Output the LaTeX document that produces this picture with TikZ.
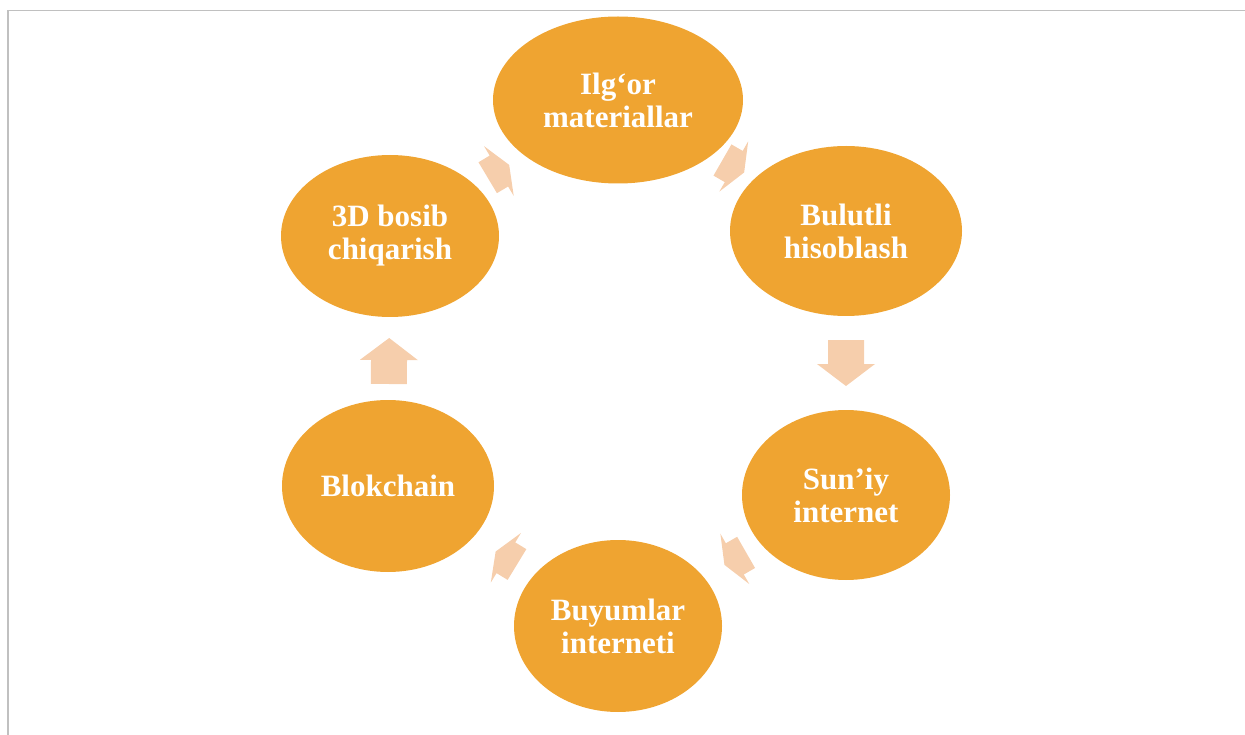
\documentclass[tikz,border=0pt]{standalone}
\usepackage{fontspec}
\setmainfont{Liberation Serif}
\usetikzlibrary{shapes.geometric,calc}
\definecolor{ellfill}{HTML}{EFA431}
\definecolor{arrfill}{HTML}{F6CEAC}
\definecolor{framegray}{HTML}{C0C0C0}
\begin{document}
\begin{tikzpicture}[x=1pt,y=-1pt,
  cyc/.style={ellipse, fill=ellfill, draw=none, text=white, inner sep=0pt, align=center,
    font=\fontsize{31}{33}\selectfont\bfseries}]
\useasboundingbox (0,0) rectangle (1245,735);
\draw[framegray, line width=1.5pt] (8,735) -- (8,10.5) -- (1245,10.5);
\node[cyc, minimum width=250pt, minimum height=167pt] (n1) at (618,100) {Ilg‘or\\materiallar};
\node[cyc, minimum width=232pt, minimum height=170pt] (n2) at (846,231) {Bulutli\\hisoblash};
\node[cyc, minimum width=208pt, minimum height=170pt] (n3) at (846,495) {Sun’iy\\internet};
\node[cyc, minimum width=208pt, minimum height=172pt] (n4) at (618,626) {Buyumlar\\interneti};
\node[cyc, minimum width=212pt, minimum height=172pt] (n5) at (388,486) {Blokchain};
\node[cyc, minimum width=218pt, minimum height=162pt] (n6) at (390,236) {3D bosib\\chiqarish};
% block arrows between consecutive nodes: from/to/position/tail/head base/tip
\foreach \xa/\xb/\xf/\xt/\xj/\xq in {n1/n2/0.5/-11/2/14, n2/n3/0.5/-23/1/23, n3/n4/0.48/-11/2/14,
    n4/n5/0.48/-11/2/14, n5/n6/0.5/-23/1/23, n6/n1/0.47/-11/2/14}
  \fill[arrfill] let \p1=($(\xb.center)-(\xa.center)$), \n1={atan2(\y1,\x1)} in
    [shift={($(\xa.center)!\xf!(\xb.center)$)}, rotate=\n1]
    (\xt,-18) -- (\xj,-18) -- (\xj,-29) -- (\xq,0) -- (\xj,29) -- (\xj,18) -- (\xt,18) -- cycle;
\end{tikzpicture}
\end{document}
